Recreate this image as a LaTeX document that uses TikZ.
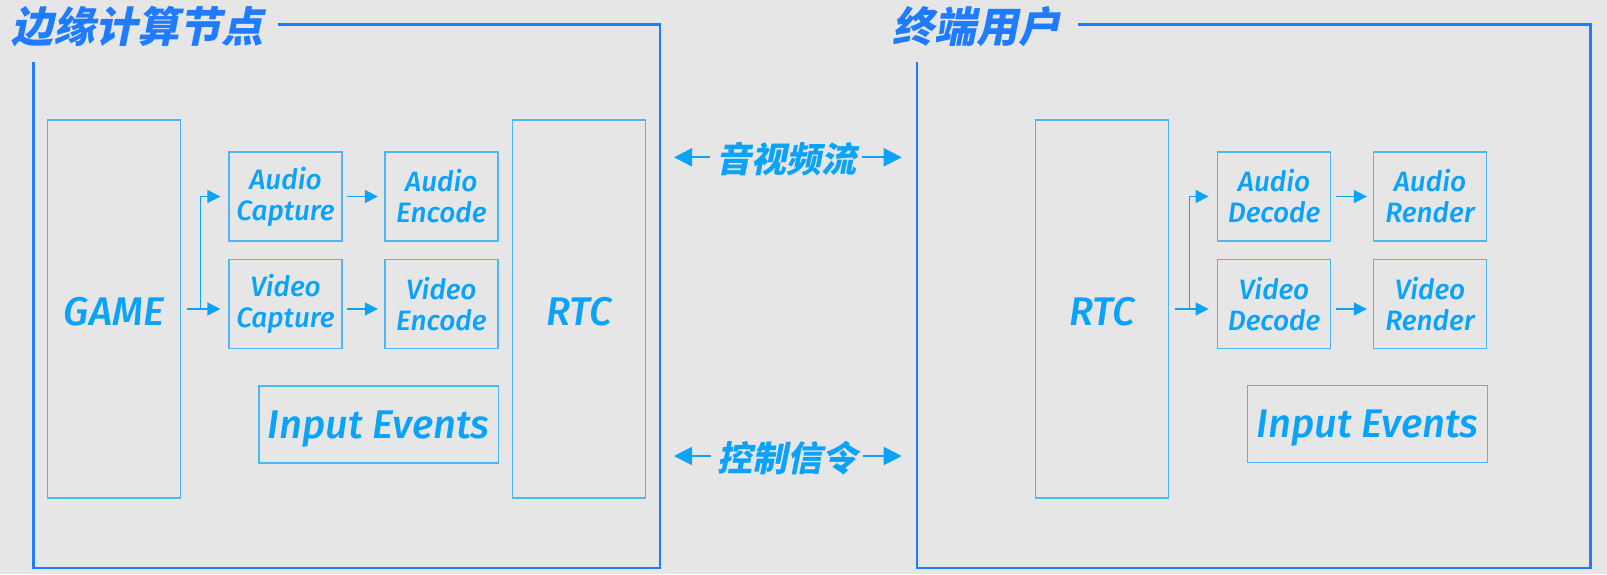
\documentclass[tikz,border=0pt]{standalone}
\usepackage{fontspec}
\setmainfont{Fira Sans}[ItalicFont={Fira Sans Medium Italic}]
\newfontfamily\cjk{Noto Sans CJK SC}[FakeSlant=0.2]
\usetikzlibrary{arrows.meta}
\definecolor{bg}{HTML}{E6E6E6}
\definecolor{framec}{HTML}{1F7BFF}
\definecolor{boxc}{HTML}{4DB6F5}
\definecolor{txt}{HTML}{0BA2FA}
\newcommand{\lowstrut}{\rule{0pt}{34pt}}
\newcommand{\iestrut}{\rule{0pt}{36pt}}
\begin{document}
\begin{tikzpicture}[x=1pt,y=-1pt,
  frm/.style={draw=framec, line width=2.6pt},
  blk/.style={draw=boxc, line width=1.3pt, inner sep=0pt, text=txt, align=center,
    font=\itshape\fontsize{28}{31}\selectfont},
  small/.style={blk, minimum width=113pt, minimum height=89pt},
  big/.style={blk, minimum width=133pt, minimum height=378pt, font=\itshape\fontsize{40}{40}\selectfont},
  ievt/.style={blk, minimum width=239.5pt, minimum height=77pt, font=\itshape\fontsize{40}{40}\selectfont},
  arr/.style={draw=txt, line width=1.6pt, -{Triangle[length=13pt,width=13pt]}},
  marr/.style={draw=txt, line width=2pt, -{Triangle[length=18pt,width=18pt]}},
  ttl/.style={text=framec, inner sep=0pt, font=\cjk\bfseries\fontsize{42}{42}\selectfont},
  mid/.style={text=txt, inner ysep=0pt, inner xsep=6pt, font=\cjk\bfseries\fontsize{35}{35}\selectfont}]
\useasboundingbox[fill=bg] (0,0) rectangle (1607,574);

% frames
\draw[frm] (277.7,24.3) -- (660,24.3) -- (660,568) -- (33.5,568) -- (33.5,61.7);
\draw[frm] (1078,24.3) -- (1590.7,24.3) -- (1590.7,568) -- (917,568) -- (917,61.7);
\node[ttl] (tl) at (138,27) {边缘计算节点};
\node[ttl] (tr) at (976,27) {终端用户};

% left side
\node[big] (game) at (113.9,309) {\lowstrut GAME};
\node[big] (rtcl) at (579,309) {\lowstrut RTC};
\node[small] (ac) at (285.5,196.5) {Audio\\Capture};
\node[small] (ae) at (441.35,196.5) {Audio\\Encode};
\node[small] (vc) at (285.5,304) {Video\\Capture};
\node[small] (ve) at (441.35,304) {Video\\Encode};
\node[ievt] (iel) at (378.65,424.5) {\iestrut Input Events};

\draw[arr, shorten <=6pt, shorten >=8pt] (game.east) -- (vc.west |- game.east);
\draw[arr, shorten >=8pt] ([xshift=19.3pt]game.east) |- (ac.west);
\draw[arr, shorten <=4.7pt, shorten >=6.4pt] (ac.east) -- (ae.west);
\draw[arr, shorten <=4.7pt, shorten >=6.4pt] (vc.east |- game.east) -- (ve.west |- game.east);

% right side
\node[big] (rtcr) at (1101.85,309) {\lowstrut RTC};
\node[small] (ad) at (1274.1,196.5) {Audio\\Decode};
\node[small] (ar) at (1430,196.5) {Audio\\Render};
\node[small] (vd) at (1274.1,304) {Video\\Decode};
\node[small] (vr) at (1430,304) {Video\\Render};
\node[ievt] (ier) at (1367.5,424.2) {\iestrut Input Events};

\draw[arr, shorten <=6.3pt, shorten >=8.4pt] (rtcr.east) -- (vd.west |- rtcr.east);
\draw[arr, shorten >=8.4pt] ([xshift=20.3pt]rtcr.east) |- (ad.west);
\draw[arr, shorten <=5pt, shorten >=6pt] (ad.east) -- (ar.west);
\draw[arr, shorten <=5pt, shorten >=6pt] (vd.east |- rtcr.east) -- (vr.west |- rtcr.east);

% middle
\node[mid] (av) at (786,159) {音视频流};
\coordinate (avL) at (674,157.3);
\coordinate (avR) at (901.7,157.3);
\draw[marr] (av.west |- avL) -- (avL);
\draw[marr] (av.east |- avR) -- (avR);

\node[mid] (ctl) at (787,458) {控制信令};
\coordinate (ctL) at (674,456);
\coordinate (ctR) at (901.7,456);
\draw[marr] (ctl.west |- ctL) -- (ctL);
\draw[marr] (ctl.east |- ctR) -- (ctR);
\end{tikzpicture}
\end{document}
